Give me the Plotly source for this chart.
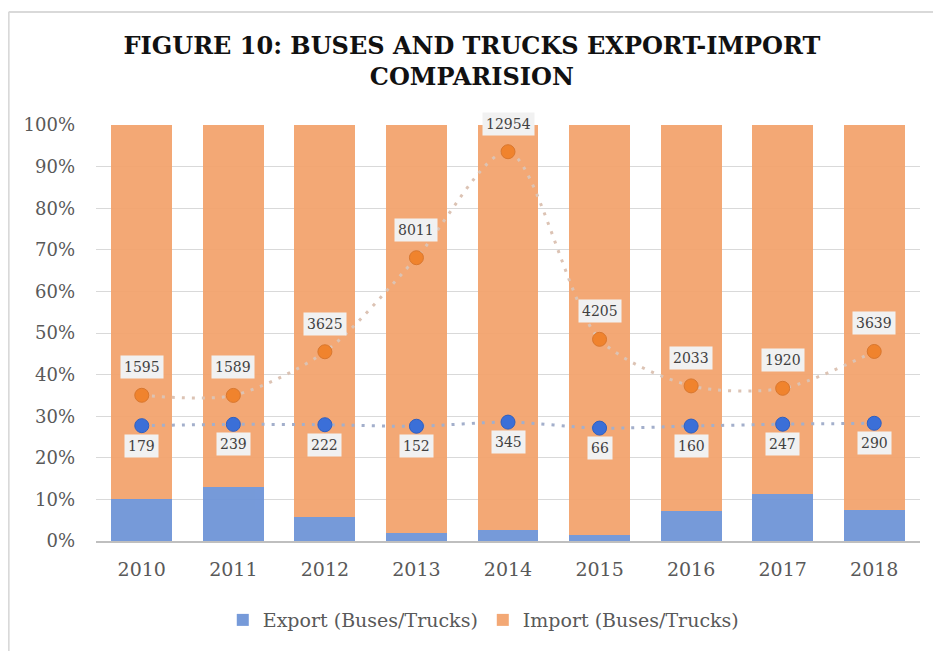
import plotly.graph_objects as go

years = ["2010", "2011", "2012", "2013", "2014", "2015", "2016", "2017", "2018"]
export_units = [179, 239, 222, 152, 345, 66, 160, 247, 290]
import_units = [1595, 1589, 3625, 8011, 12954, 4205, 2033, 1920, 3639]

totals = [e + i for e, i in zip(export_units, import_units)]
export_share = [e / t for e, t in zip(export_units, totals)]
import_share = [i / t for i, t in zip(import_units, totals)]

serif = "DejaVu Serif, Liberation Serif, serif"
bar_blue = "#6F95D8"
bar_orange = "#F3A46E"

fig = go.Figure()
fig.add_trace(go.Bar(x=years, y=export_share, name="Export (Buses/Trucks)",
                     marker=dict(color=bar_blue, line=dict(width=0)), opacity=0.95))
fig.add_trace(go.Bar(x=years, y=import_share, name="Import (Buses/Trucks)",
                     marker=dict(color=bar_orange, line=dict(width=0)), opacity=0.95))

fig.add_trace(go.Scatter(x=years, y=export_units, yaxis="y2", mode="lines+markers",
                         line=dict(color="#A3AFCB", width=3, dash="3px,7px", shape="spline", smoothing=0.8),
                         marker=dict(color="#3B6FD8", size=14, line=dict(color="#2F5FBF", width=1)),
                         showlegend=False, hoverinfo="skip"))
fig.add_trace(go.Scatter(x=years, y=import_units, yaxis="y2", mode="lines+markers",
                         line=dict(color="#DCC3B4", width=3, dash="3px,7px", shape="spline", smoothing=0.8),
                         marker=dict(color="#F0832D", size=14, line=dict(color="#D9772E", width=1)),
                         showlegend=False, hoverinfo="skip"))

ann = []
for i, v in enumerate(import_units):
    ann.append(dict(x=i, y=v, xref="x", yref="y2", text=str(v), showarrow=False, yshift=28,
                    font=dict(family=serif, size=14, color="#404040"),
                    bgcolor="#F1F1F1", borderpad=3))
for i, v in enumerate(export_units):
    ann.append(dict(x=i, y=v, xref="x", yref="y2", text=str(v), showarrow=False, yshift=-20,
                    font=dict(family=serif, size=14, color="#404040"),
                    bgcolor="#F1F1F1", borderpad=3))

fig.update_layout(
    width=941, height=651,
    barmode="stack", bargap=0.334,
    paper_bgcolor="white", plot_bgcolor="white",
    margin=dict(l=88, r=29, t=117, b=118),
    title=dict(text="<b>FIGURE 10: BUSES AND TRUCKS EXPORT-IMPORT<br>COMPARISION</b>",
               x=0.493, xref="container", xanchor="center", y=0.930, yanchor="top",
               font=dict(family=serif, size=24, color="#111111")),
    xaxis=dict(type="category", range=[-0.5, 8.5], tickfont=dict(family=serif, size=19, color="#595959"),
               showgrid=False, showline=True, linecolor="#BFBFBF", linewidth=1.5, ticks="", ticklen=0,
               ticklabelstandoff=10),
    yaxis=dict(range=[0, 1], tickformat=".0%", dtick=0.1,
               tickfont=dict(family=serif, size=18, color="#595959"),
               showgrid=True, gridcolor="#D9D9D9", gridwidth=1, zeroline=False,
               layer="above traces", ticklabelstandoff=20),
    yaxis2=dict(range=[-5200, 14200], overlaying="y", side="right", visible=False,
                showgrid=False),
    legend=dict(orientation="h", x=0.47, xanchor="center", y=-0.19, yanchor="middle",
                font=dict(family=serif, size=19, color="#595959"), traceorder="normal"),
    annotations=ann,
    shapes=[
        dict(type="line", xref="paper", yref="paper", x0=-0.106, x1=-0.106, y0=-0.3, y1=1.2716,
             line=dict(color="#D9D9D9", width=2)),
        dict(type="line", xref="paper", yref="paper", x0=-0.106, x1=1.05, y0=1.2716, y1=1.2716,
             line=dict(color="#D9D9D9", width=2)),
    ],
)

fig.write_html("out.html")
